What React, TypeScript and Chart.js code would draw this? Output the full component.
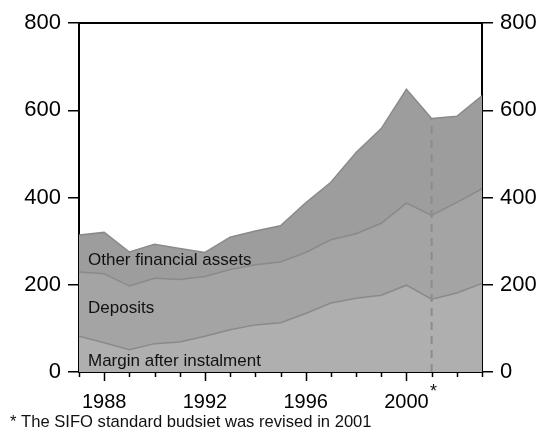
import React, { useEffect, useRef } from "react";
import { Chart, registerables } from "chart.js";

Chart.register(...registerables);

const years = [1987, 1988, 1989, 1990, 1991, 1992, 1993, 1994, 1995, 1996, 1997, 1998, 1999, 2000, 2001, 2002, 2003];
const totalTop = [314, 320, 275, 293, 283, 274, 309, 323, 335, 388, 435, 503, 558, 648, 581, 586, 633];
const depositsTop = [229, 225, 197, 215, 212, 219, 235, 246, 252, 274, 303, 317, 341, 387, 359, 389, 420];
const marginLine = [82, 67, 51, 65, 69, 82, 97, 108, 113, 134, 158, 169, 176, 199, 167, 181, 203];
const labeledYears = [1988, 1992, 1996, 2000];
const revisionYear = 2001;
const revisionValue = 581;
const yTicks = [0, 200, 400, 600, 800];
const bandLabels = ["Other financial assets", "Deposits", "Margin after instalment"];
const bandLabelValues = [257, 147, 25];
const footnote = "* The SIFO standard budsiet was revised in 2001";

const FONT = "'Liberation Sans', Arial, sans-serif";

const toPts = (vals: number[]) => vals.map((v, i) => ({ x: years[i], y: v }));

const decorPlugin = {
  id: "decor",
  afterDraw(chart: any) {
    const { ctx, chartArea, scales } = chart;
    const xs = scales.x;
    const ys = scales.y;
    ctx.save();
    // top frame
    ctx.strokeStyle = "#000";
    ctx.lineWidth = 2;
    ctx.beginPath();
    ctx.moveTo(chartArea.left, chartArea.top);
    ctx.lineTo(chartArea.right, chartArea.top);
    ctx.stroke();
    // x ticks
    ctx.lineWidth = 1.5;
    years.forEach((yr) => {
      const px = Math.round(xs.getPixelForValue(yr)) + 0.5;
      const len = labeledYears.includes(yr) ? 9 : 5;
      ctx.beginPath();
      ctx.moveTo(px, chartArea.bottom);
      ctx.lineTo(px, chartArea.bottom + len);
      ctx.stroke();
    });
    // band labels
    ctx.fillStyle = "#111";
    ctx.font = `17px ${FONT}`;
    ctx.textAlign = "left";
    ctx.textBaseline = "middle";
    bandLabels.forEach((t, i) => {
      ctx.fillText(t, xs.getPixelForValue(years[0]) + 9, ys.getPixelForValue(bandLabelValues[i]));
    });
    // asterisk
    ctx.font = `18px ${FONT}`;
    ctx.textAlign = "center";
    ctx.textBaseline = "alphabetic";
    ctx.fillText("*", xs.getPixelForValue(revisionYear) + 2, chartArea.bottom + 25);
    // footnote
    ctx.font = `16.6px ${FONT}`;
    ctx.textAlign = "left";
    ctx.fillText(footnote, 10, 427);
    ctx.restore();
  },
};

export default function App() {
  const ref = useRef<HTMLCanvasElement>(null);
  useEffect(() => {
    if (!ref.current) return;
    const chart = new Chart(ref.current, {
      type: "line",
      data: {
        datasets: [
          {
            label: "Revision",
            data: [
              { x: revisionYear, y: 0 },
              { x: revisionYear, y: revisionValue },
            ],
            borderColor: "#8c8c8c",
            borderWidth: 2,
            borderDash: [8, 6],
            pointRadius: 0,
            fill: false,
            order: -1,
            yAxisID: "y",
          } as any,
          {
            label: "Margin after instalment",
            data: toPts(marginLine),
            borderColor: "#8a8a8a",
            backgroundColor: "#afafaf",
            borderWidth: 1.5,
            pointRadius: 0,
            fill: "origin",
            tension: 0,
            yAxisID: "y",
          },
          {
            label: "Deposits",
            data: toPts(depositsTop),
            borderColor: "#8a8a8a",
            backgroundColor: "#a4a4a4",
            borderWidth: 1.5,
            pointRadius: 0,
            fill: "origin",
            tension: 0,
            yAxisID: "y",
          },
          {
            label: "Other financial assets",
            data: toPts(totalTop),
            borderColor: "#8a8a8a",
            backgroundColor: "#9d9d9d",
            borderWidth: 1.5,
            pointRadius: 0,
            fill: "origin",
            tension: 0,
            yAxisID: "y",
          },
        ],
      },
      options: {
        responsive: false,
        animation: false,
        devicePixelRatio: 1,
        layout: { padding: { top: 23, left: 0, right: 0, bottom: 0 } },
        plugins: {
          legend: { display: false },
          tooltip: { enabled: false },
        },
        scales: {
          x: {
            type: "linear",
            min: years[0],
            max: years[years.length - 1],
            grid: { display: false },
            border: { display: true, color: "#000", width: 2 },
            afterFit: (s: any) => {
              s.height = 58;
            },
            afterBuildTicks: (s: any) => {
              s.ticks = years.map((v) => ({ value: v }));
            },
            ticks: {
              autoSkip: false,
              maxRotation: 0,
              padding: 10,
              color: "#000",
              font: { family: FONT, size: 20 },
              callback: (v: any) => (labeledYears.includes(Number(v)) ? String(v) : ""),
            },
          },
          y: {
            position: "left",
            min: 0,
            max: 800,
            afterBuildTicks: (s: any) => {
              s.ticks = yTicks.map((v) => ({ value: v }));
            },
            afterFit: (s: any) => {
              s.width = 79;
            },
            grid: { drawOnChartArea: false, tickLength: 11, color: "#000", lineWidth: 1.5 },
            border: { display: true, color: "#000", width: 2 },
            ticks: { padding: 7, color: "#000", font: { family: FONT, size: 22 } },
          },
          y2: {
            position: "right",
            min: 0,
            max: 800,
            afterBuildTicks: (s: any) => {
              s.ticks = yTicks.map((v) => ({ value: v }));
            },
            afterFit: (s: any) => {
              s.width = 58;
            },
            grid: { drawOnChartArea: false, tickLength: 11, color: "#000", lineWidth: 1.5 },
            border: { display: true, color: "#000", width: 2 },
            ticks: { padding: 7, color: "#000", font: { family: FONT, size: 22 } },
          },
        },
      } as any,
      plugins: [decorPlugin],
    });
    return () => chart.destroy();
  }, []);
  return (
    <div style={{ position: "fixed", left: 0, top: 0, width: 540, height: 430, background: "#fff" }}>
      <canvas ref={ref} width={540} height={430} />
    </div>
  );
}
